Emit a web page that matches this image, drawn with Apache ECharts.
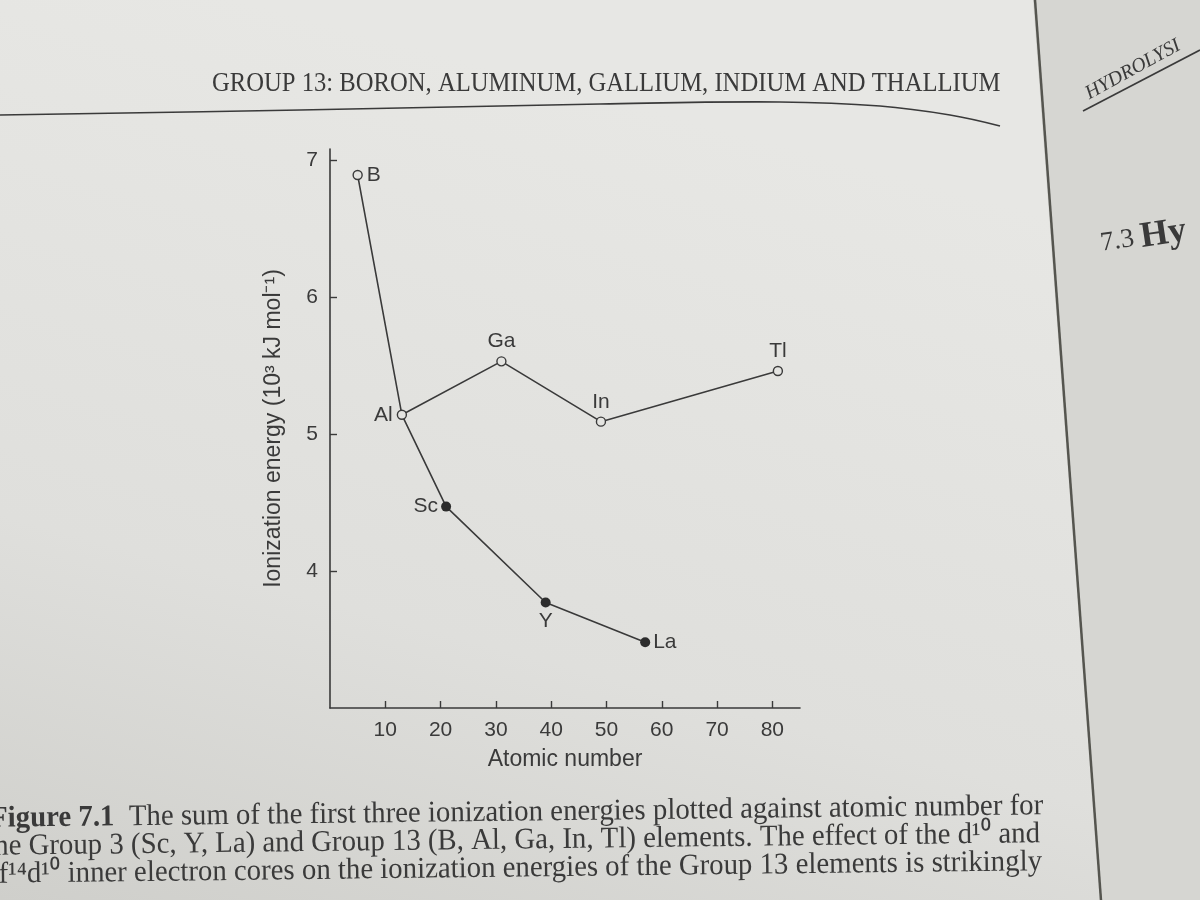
<!DOCTYPE html>
<html>
<head>
<meta charset="utf-8">
<title>Figure 7.1 Ionization energies</title>
<script src="https://cdn.jsdelivr.net/npm/echarts@6.0.0/dist/echarts.min.js"></script>
<style>
  html, body { margin: 0; padding: 0; background: #e2e2df; }
  #chart { width: 1200px; height: 900px; }
</style>
</head>
<body>
<div id="chart"></div>
<script>
// Group 13 (open circles) and Group 3 (filled circles); x = atomic number, y = 10^3 kJ/mol
const group13Names = ["B", "Al", "Ga", "In", "Tl"];
const group13Z = [5, 13, 31, 49, 81];
const group13Energy = [6.89, 5.14, 5.53, 5.09, 5.46];

const group3Names = ["Al", "Sc", "Y", "La"];
const group3Z = [13, 21, 39, 57];
const group3Energy = [5.14, 4.47, 3.77, 3.48];

const xTicks = [10, 20, 30, 40, 50, 60, 70, 80];
const yTicks = [4, 5, 6, 7];

const ink = "#3a3a3a";
const labelSide = { B: "right", Al: "left", Ga: "top", In: "top", Tl: "top", Sc: "left", Y: "bottom", La: "right" };

const toPoints = (names, xs, ys) =>
  names.map((n, i) => ({
    name: n,
    value: [xs[i], ys[i]],
    label: { position: labelSide[n] },
  }));

const group3Points = toPoints(group3Names, group3Z, group3Energy);
// Al is drawn by the Group 13 series; the Group 3 line only starts there
group3Points[0].symbolSize = 0;
group3Points[0].label = { show: false };

const serif = "'Liberation Serif'";

const chart = echarts.init(document.getElementById("chart"));
chart.setOption({
  backgroundColor: {
    type: "linear", x: 0.2, y: 0, x2: 0, y2: 1,
    colorStops: [{ offset: 0, color: "#e7e7e4" }, { offset: 0.6, color: "#dfdfdc" }, { offset: 1, color: "#cfcfcb" }],
  },
  animation: false,
  textStyle: { fontFamily: "Liberation Sans", color: ink },
  grid: { left: 330, right: 400, top: 149, bottom: 192 },
  xAxis: {
    type: "value",
    min: 0,
    max: 85,
    name: "Atomic number",
    nameLocation: "middle",
    nameGap: 40,
    nameTextStyle: { fontSize: 23, color: ink },
    splitLine: { show: false },
    axisLine: { lineStyle: { color: ink, width: 1.6 } },
    axisTick: { inside: true, length: 7, customValues: xTicks, lineStyle: { color: ink, width: 1.4 } },
    axisLabel: { customValues: xTicks, fontSize: 21, color: ink, margin: 12 },
  },
  yAxis: {
    type: "value",
    min: 3,
    max: 7.08,
    name: "Ionization energy (10³ kJ mol⁻¹)",
    nameLocation: "middle",
    nameGap: 45,
    nameRotate: 90,
    nameTextStyle: { fontSize: 23, color: ink },
    splitLine: { show: false },
    axisLine: { lineStyle: { color: ink, width: 1.6 } },
    axisTick: { inside: true, length: 7, customValues: yTicks, lineStyle: { color: ink, width: 1.4 } },
    axisLabel: { customValues: yTicks, fontSize: 21, color: ink, margin: 12 },
  },
  series: [
    {
      name: "Group 3",
      type: "line",
      z: 2,
      data: group3Points,
      symbol: "circle",
      symbolSize: 10,
      lineStyle: { color: ink, width: 1.6 },
      itemStyle: { color: "#2c2c2c", borderWidth: 0 },
      label: { show: true, formatter: "{b}", fontSize: 21, color: ink, distance: 3 },
    },
    {
      name: "Group 13",
      type: "line",
      z: 3,
      data: toPoints(group13Names, group13Z, group13Energy),
      symbol: "circle",
      symbolSize: 9,
      lineStyle: { color: ink, width: 1.6 },
      itemStyle: { color: "#e4e4e1", borderColor: ink, borderWidth: 1.4 },
      label: { show: true, formatter: "{b}", fontSize: 21, color: ink, distance: 4 },
    },
  ],
  graphic: [
    // right-hand facing page, split by a slanted gutter
    {
      type: "polygon", z: -1,
      shape: { points: [[1033, 0], [1200, 0], [1200, 900], [1100, 900]] },
      style: { fill: "#d6d6d2" },
    },
    { type: "line", shape: { x1: 1035, y1: 0, x2: 1101, y2: 900 }, style: { stroke: "#55554f", lineWidth: 2.5 } },
    {
      type: "text", x: 1082, y: 86, rotation: 0.5,
      style: { text: "HYDROLYSI", font: "italic 20px " + serif, fill: ink },
    },
    { type: "line", shape: { x1: 1083, y1: 111, x2: 1200, y2: 50 }, style: { stroke: ink, lineWidth: 1.6 } },
    {
      type: "text", x: 1098, y: 226, rotation: 0.15,
      style: {
        text: "{n|7.3}  {h|Hy}",
        rich: {
          n: { fontSize: 27, fontFamily: "Liberation Serif", fill: ink },
          h: { fontSize: 36, fontWeight: "bold", fontFamily: "Liberation Serif", fill: ink },
        },
      },
    },
    // running head
    {
      type: "text", x: 212, y: 70, scaleX: 0.88,
      style: { text: "GROUP 13: BORON, ALUMINUM, GALLIUM, INDIUM AND THALLIUM", font: "28px " + serif, fill: ink },
    },
    {
      type: "polyline",
      shape: { points: [[0, 115], [300, 110], [600, 104], [780, 102], [880, 106], [950, 115], [1000, 126]], smooth: 0.4 },
      style: { stroke: ink, lineWidth: 1.6, fill: null },
    },
    // caption
    {
      type: "text", x: -10, y: 804, rotation: 0.012, scaleX: 0.96,
      style: {
        text: "{b|Figure 7.1}  The sum of the first three ionization energies plotted against atomic number for",
        font: "30px " + serif, fill: ink,
        rich: { b: { fontWeight: "bold", fontSize: 30, fontFamily: "Liberation Serif", fill: ink } },
      },
    },
    {
      type: "text", x: -14, y: 832, rotation: 0.012, scaleX: 0.96,
      style: { text: "the Group 3 (Sc, Y, La) and Group 13 (B, Al, Ga, In, Tl) elements. The effect of the d¹⁰ and", font: "30px " + serif, fill: ink },
    },
    {
      type: "text", x: -16, y: 860, rotation: 0.012, scaleX: 0.96,
      style: { text: "4f¹⁴d¹⁰ inner electron cores on the ionization energies of the Group 13 elements is strikingly", font: "30px " + serif, fill: ink },
    },
  ],
});
</script>
</body>
</html>
